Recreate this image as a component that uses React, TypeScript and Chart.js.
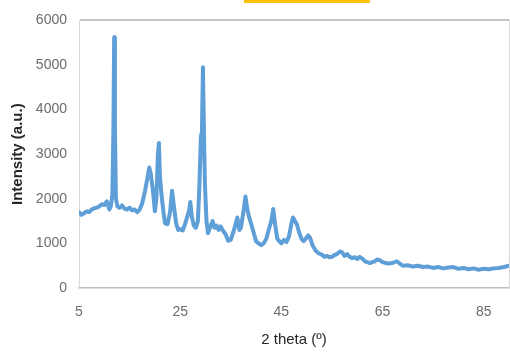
import React, { useEffect, useRef } from "react";
import { Chart, registerables } from "chart.js";

Chart.register(...registerables);

const twoTheta: number[] = [
  5, 5.5, 6, 6.5, 7, 7.5, 8, 8.5, 9, 9.5, 10, 10.5, 11, 11.3, 11.6, 11.8, 11.95, 12.1, 12.3, 12.6,
  13, 13.5, 14, 14.5, 15, 15.5, 16, 16.5, 17, 17.5, 18, 18.5, 18.9, 19.2, 19.6, 20, 20.3, 20.6, 20.8, 21.0,
  21.3, 21.7, 22, 22.5, 23, 23.4, 23.8, 24.2, 24.6, 25, 25.5, 26, 26.4, 26.8, 27.0, 27.3, 27.7, 28.1, 28.5, 28.8,
  29.1, 29.3, 29.5, 29.7, 29.9, 30.2, 30.5, 30.9, 31.4, 31.8, 32.2, 32.6, 33, 33.5, 34, 34.5, 35, 35.5, 36, 36.3,
  36.7, 37, 37.5, 37.9, 38.3, 38.6, 39, 39.5, 40, 40.5, 41, 41.5, 42, 42.5, 43, 43.4, 43.8, 44.2, 44.6, 45,
  45.5, 46, 46.5, 47, 47.3, 47.7, 48.1, 48.5, 49, 49.4, 49.8, 50.3, 50.7, 51.2, 51.7, 52.3, 53, 53.5, 54, 54.5,
  55, 55.5, 56, 56.6, 57, 57.5, 58, 58.5, 59, 59.5, 60, 60.5, 61, 61.5, 62, 62.5, 63, 63.5, 64, 64.5,
  65, 66, 67, 67.8, 68.5, 69, 70, 71, 72, 73, 74, 75, 76, 77, 78, 79, 80, 81, 82, 83,
  84, 85, 86, 87, 88, 89, 90,
];

const intensity: number[] = [
  1700, 1640, 1680, 1720, 1700, 1760, 1790, 1800, 1830, 1880, 1860, 1940, 1760, 1840, 2100, 3500, 5620, 3600, 2000, 1830,
  1800, 1850, 1780, 1760, 1800, 1740, 1760, 1700, 1760, 1900, 2150, 2450, 2700, 2550, 2200, 1720, 2000, 3000, 3250, 2500,
  2100, 1700, 1450, 1430, 1700, 2180, 1800, 1450, 1300, 1320, 1290, 1450, 1600, 1750, 1930, 1600, 1400, 1350, 1500, 2300,
  3400, 3500, 4950, 3500, 2300, 1500, 1230, 1350, 1500, 1350, 1400, 1300, 1380, 1280, 1200, 1060, 1080, 1250, 1450, 1580,
  1300, 1350, 1700, 2050, 1750, 1600, 1450, 1250, 1050, 1000, 960, 1000, 1100, 1300, 1500, 1770, 1400, 1100, 1050, 1000,
  1080, 1030, 1150, 1450, 1580, 1500, 1420, 1250, 1100, 1050, 1100, 1180, 1120, 950, 850, 780, 750, 700, 720, 690,
  700, 740, 760, 820, 800, 720, 760, 700, 670, 690, 650, 700, 660, 600, 580, 560, 580, 600, 640, 620,
  580, 550, 560, 600, 540, 500, 510, 480, 500, 470, 480, 450, 470, 440, 460, 470, 430, 450, 420, 440,
  410, 430, 420, 440, 450, 470, 500,
];

const xTickValues: number[] = [5, 25, 45, 65, 85];
const yTickValues: number[] = [0, 1000, 2000, 3000, 4000, 5000, 6000];

const xTitle = "2 theta (º)";
const yTitle = "Intensity (a.u.)";

const FONT = "'Liberation Sans', Arial, sans-serif";

export default function App() {
  const canvasRef = useRef<HTMLCanvasElement | null>(null);

  useEffect(() => {
    const canvas = canvasRef.current;
    if (!canvas) return;

    const rightBorder = {
      id: "rightBorder",
      afterDraw(chart: any) {
        const { ctx, chartArea } = chart;
        ctx.save();
        ctx.strokeStyle = "#d6d6d6";
        ctx.lineWidth = 1;
        ctx.beginPath();
        ctx.moveTo(chartArea.right + 0.5, chartArea.top);
        ctx.lineTo(chartArea.right + 0.5, chartArea.bottom);
        ctx.stroke();
        ctx.restore();
      },
    };

    const chart = new Chart(canvas, {
      type: "line",
      data: {
        datasets: [
          {
            data: twoTheta.map((x, i) => ({ x, y: intensity[i] })),
            borderColor: "#5f9fd8",
            borderWidth: 4,
            borderJoinStyle: "round",
            borderCapStyle: "round",
            pointRadius: 0,
            tension: 0,
            fill: false,
          },
        ],
      },
      options: {
        animation: false,
        responsive: false,
        layout: { padding: { left: 0, top: 20, right: 1, bottom: 0 } },
        plugins: { legend: { display: false }, tooltip: { enabled: false } },
        scales: {
          x: {
            type: "linear",
            min: 5,
            max: 90,
            afterBuildTicks: (scale: any) => {
              scale.ticks = xTickValues.map((v) => ({ value: v }));
            },
            afterFit: (scale: any) => {
              scale.height = 67;
            },
            grid: { display: false, drawTicks: false },
            border: { display: true, color: "#bfbfbf", width: 1.5 },
            ticks: {
              padding: 16,
              color: "#6b6b6b",
              font: { family: FONT, size: 14 },
              maxRotation: 0,
              callback: (v: any) => String(v),
            },
            title: {
              display: true,
              text: xTitle,
              color: "#262626",
              font: { family: FONT, size: 15 },
              padding: { top: 0, bottom: 6 },
            },
          },
          y: {
            type: "linear",
            min: 0,
            max: 6000,
            afterBuildTicks: (scale: any) => {
              scale.ticks = yTickValues.map((v) => ({ value: v }));
            },
            afterFit: (scale: any) => {
              scale.width = 79;
            },
            grid: {
              drawTicks: false,
              color: (ctx: any) => (ctx.tick && ctx.tick.value === 6000 ? "#c4c4c4" : "rgba(0,0,0,0)"),
              lineWidth: 2,
            },
            border: { display: true, color: "#d9d9d9", width: 1 },
            ticks: {
              padding: 12,
              color: "#6b6b6b",
              font: { family: FONT, size: 14 },
              callback: (v: any) => String(v),
            },
            title: {
              display: true,
              text: yTitle,
              color: "#262626",
              font: { family: FONT, size: 15, weight: "bold" },
              padding: { top: 9, bottom: 0 },
            },
          },
        },
      },
      plugins: [rightBorder],
    } as any);

    return () => chart.destroy();
  }, []);

  return (
    <div style={{ position: "absolute", left: 0, top: 0, width: 510, height: 355, background: "#ffffff" }}>
      <canvas ref={canvasRef} width={510} height={355} style={{ position: "absolute", left: 0, top: 0 }} />
      <div
        style={{
          position: "absolute",
          left: 244,
          top: 0,
          width: 126,
          height: 3,
          background: "#ffc000",
        }}
      />
    </div>
  );
}
